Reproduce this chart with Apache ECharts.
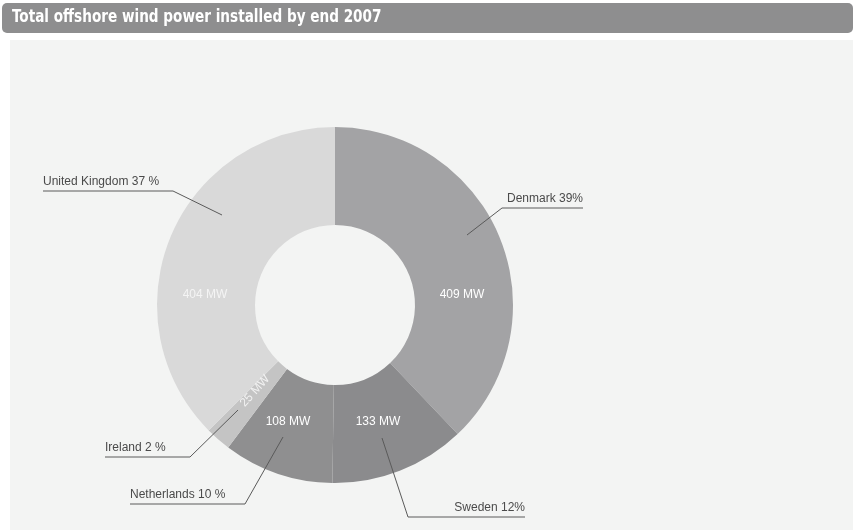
<!DOCTYPE html>
<html>
<head>
<meta charset="utf-8">
<script src="https://cdn.jsdelivr.net/npm/echarts@6/dist/echarts.min.js"></script>
<style>
  html, body { margin: 0; padding: 0; background: #ffffff; }
  #chart { width: 853px; height: 530px; }
</style>
</head>
<body>
<div id="chart"></div>
<script>
// Installed offshore wind capacity by country, end of 2007
const countries = ['Denmark', 'Sweden', 'Netherlands', 'Ireland', 'United Kingdom'];
const capacityMW = [409, 133, 108, 25, 404];
const shareText = ['39%', '12%', '10 %', '2 %', '37 %'];

// Ring geometry and slice shades
const CX = 335, CY = 305, R_IN = 80, R_OUT = 178;
const shades = ['#a3a3a5', '#8b8b8d', '#8f8f90', '#c4c4c4', '#d9d9d9'];

// Leader lines for the country labels, relative to the ring centre:
// [start inside ring, elbow, end of underline], text alignment
const leaders = [
  { pts: [[132, -70], [167, -97], [248, -97]], align: 'right' },
  { pts: [[47, 133], [73, 212], [190, 212]], align: 'right' },
  { pts: [[-52, 132], [-90, 199], [-205, 199]], align: 'left' },
  { pts: [[-97, 105], [-145, 152], [-230, 152]], align: 'left' },
  { pts: [[-113, -90], [-162, -114], [-292, -114]], align: 'left' }
];
// Positions of the MW value labels, relative to the ring centre
const valueSpots = [[127, -10], [43, 117], [-47, 117], [-80, 86], [-130, -10]];
const valueRotate = [0, 0, 0, 48, 0];
const valueColors = ['#ffffff', '#ffffff', '#ffffff', '#f2f2f2', '#f4f4f4'];

const chart = echarts.init(document.getElementById('chart'), null, { renderer: 'canvas' });

const ringData = countries.map((name, i) => ({
  name: name,
  value: capacityMW[i],
  itemStyle: { color: shades[i] },
  label: { rotate: valueRotate[i], color: valueColors[i] }
}));

const labelData = countries.map((name, i) => ({
  name: name,
  value: capacityMW[i]
}));

chart.setOption({
  animation: false,
  backgroundColor: '#ffffff',
  graphic: [
    {
      type: 'rect', z: 0,
      shape: { x: 10, y: 40, width: 843, height: 490 },
      style: { fill: '#f3f4f3' }
    },
    {
      type: 'rect', z: 1,
      shape: { x: 2, y: 3, width: 851, height: 30, r: 5 },
      style: { fill: '#8e8e8f' }
    },
    {
      type: 'text', z: 2, x: 12, y: 18,
      scaleX: 0.89,
      style: {
        text: 'Total offshore wind power installed by end 2007',
        fill: '#ffffff',
        font: "bold 17px 'Liberation Sans Narrow', 'DejaVu Sans Condensed', sans-serif",
        verticalAlign: 'middle'
      }
    }
  ],
  series: [
    {
      type: 'pie',
      center: [CX, CY],
      radius: [R_IN, R_OUT],
      startAngle: 90,
      clockwise: true,
      silent: true,
      z: 3,
      itemStyle: { borderWidth: 0 },
      label: {
        show: true,
        position: 'inside',
        formatter: (p) => p.value + ' MW',
        fontFamily: "'Liberation Sans', Arial, sans-serif",
        fontSize: 12,
        color: '#ffffff'
      },
      labelLine: { show: false },
      labelLayout: (p) => ({
        x: CX + valueSpots[p.dataIndex][0],
        y: CY + valueSpots[p.dataIndex][1],
        align: 'center',
        verticalAlign: 'middle'
      }),
      data: ringData
    },
    {
      type: 'pie',
      center: [CX, CY],
      radius: [R_IN, R_OUT],
      startAngle: 90,
      clockwise: true,
      silent: true,
      z: 4,
      itemStyle: { color: 'rgba(0,0,0,0)' },
      label: {
        show: true,
        position: 'outside',
        formatter: (p) => p.name + ' ' + shareText[p.dataIndex],
        fontFamily: "'Liberation Sans', Arial, sans-serif",
        fontSize: 12,
        color: '#4a4a4a'
      },
      labelLine: {
        show: true,
        length: 10,
        length2: 10,
        lineStyle: { color: '#5a5a5a', width: 1 }
      },
      labelLayout: (p) => {
        const L = leaders[p.dataIndex];
        const pts = L.pts.map((q) => [CX + q[0], CY + q[1]]);
        return {
          x: pts[2][0],
          y: pts[2][1] - 3,
          align: L.align,
          verticalAlign: 'bottom',
          labelLinePoints: pts
        };
      },
      data: labelData
    }
  ]
});
</script>
</body>
</html>
